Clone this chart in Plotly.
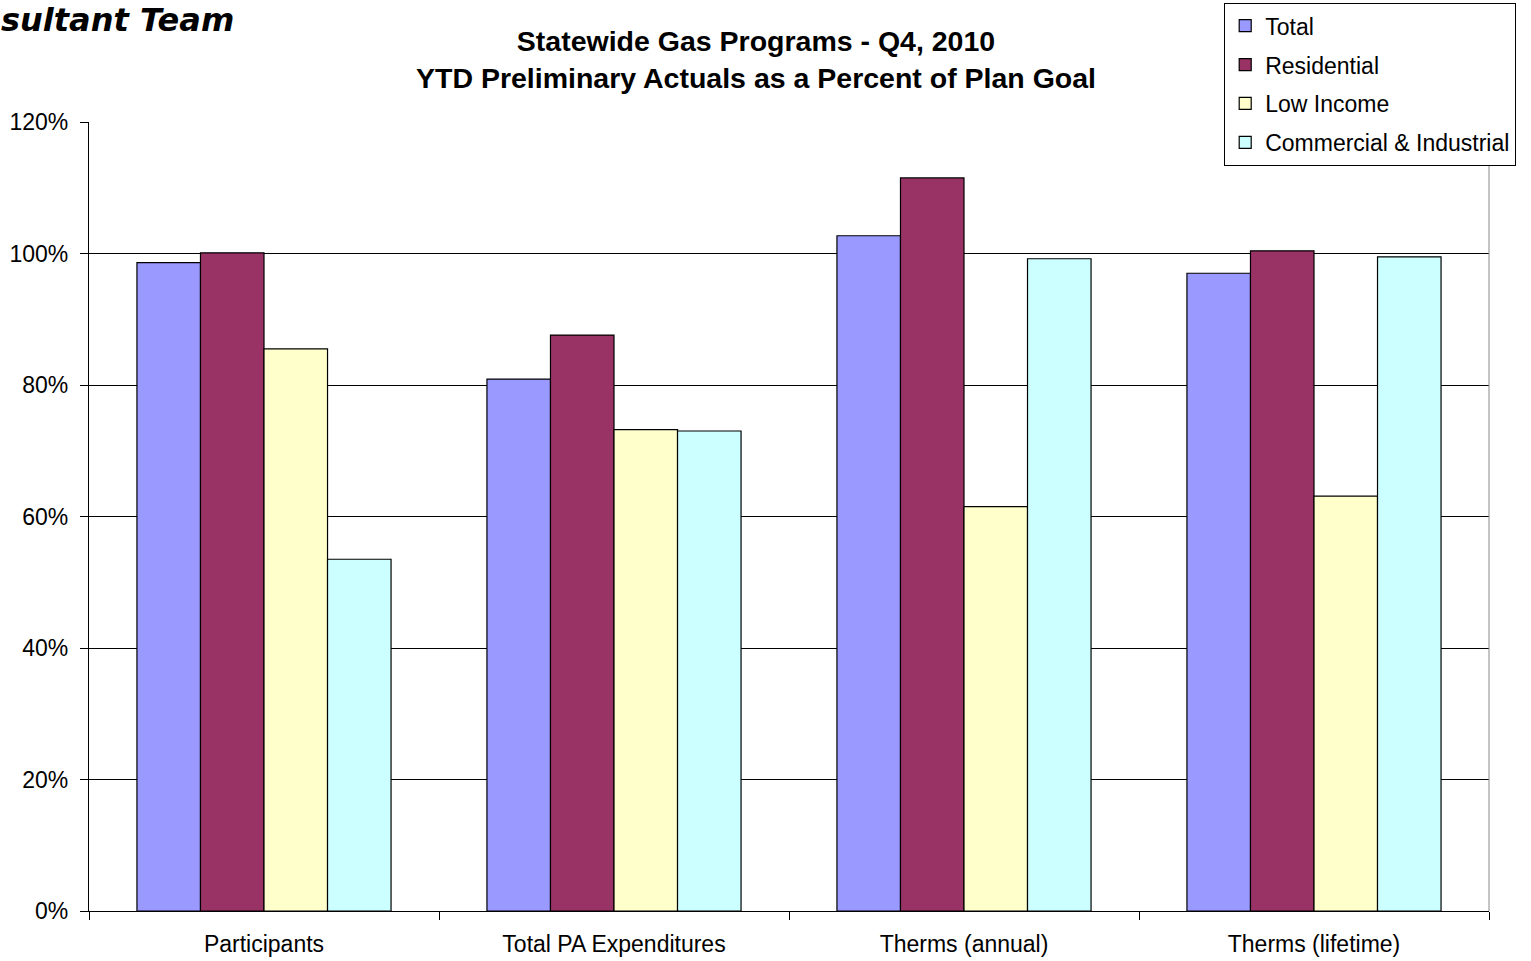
import plotly.graph_objects as go

categories = ["Participants", "Total PA Expenditures", "Therms (annual)", "Therms (lifetime)"]
series_names = ["Total", "Residential", "Low Income", "Commercial & Industrial"]
total = [98.6, 80.9, 102.7, 97.0]
residential = [100.1, 87.6, 111.5, 100.4]
low_income = [85.5, 73.2, 61.5, 63.1]
commercial = [53.5, 73.0, 99.2, 99.5]
colors = ["#9999FF", "#993366", "#FFFFCC", "#CCFFFF"]
y_ticks = [0, 20, 40, 60, 80, 100, 120]
y_tick_labels = ["0%", "20%", "40%", "60%", "80%", "100%", "120%"]

FONT = "Liberation Sans, Arial, sans-serif"

fig = go.Figure()
for i, (name, vals) in enumerate(zip(series_names, [total, residential, low_income, commercial])):
    fig.add_trace(go.Bar(
        x=categories, y=vals, name=name, legendgroup=name,
        marker=dict(color=colors[i], line=dict(color="black", width=1.2)),
    ))

fig.update_layout(
    width=1531, height=961,
    margin=dict(l=89, r=42, t=122, b=50, autoexpand=False),
    plot_bgcolor="white", paper_bgcolor="white",
    barmode="group", bargap=0.274, bargroupgap=0,
    font=dict(family=FONT, color="black"),
    title=dict(
        text="<b>Statewide Gas Programs - Q4, 2010<br>YTD Preliminary Actuals as a Percent of Plan Goal</b>",
        x=756 / 1531, xanchor="center", xref="container",
        y=1 - 51 / 961, yanchor="middle", yref="container",
        font=dict(size=28.5, family=FONT, color="black"),
    ),
    legend=dict(
        x=1224 / 1531, xanchor="left", xref="container",
        y=1 - 3 / 961, yanchor="top", yref="container",
        bordercolor="black", borderwidth=1.2, bgcolor="white",
        font=dict(size=23, family=FONT, color="black"),
        traceorder="grouped", tracegroupgap=6,
    ),
    xaxis=dict(
        showline=True, linecolor="black", linewidth=1.2,
        ticks="outside", tickson="boundaries", ticklen=8, tickcolor="black",
        tickfont=dict(size=23, family=FONT, color="black"),
        ticklabelstandoff=12, automargin=False,
        showgrid=False,
    ),
    yaxis=dict(
        range=[0, 120], tickvals=y_ticks, ticktext=y_tick_labels,
        showline=True, linecolor="black", linewidth=1.2,
        ticks="outside", ticklen=8, tickcolor="black",
        tickfont=dict(size=23, family=FONT, color="black"),
        ticklabelstandoff=7, automargin=False,
        showgrid=True, gridcolor="black", gridwidth=1,
        zeroline=False,
    ),
    showlegend=True,
)

fig.add_shape(type="line", xref="paper", yref="paper", x0=1, x1=1, y0=0, y1=1,
              line=dict(color="#888888", width=1))

fig.add_annotation(
    text="<b><i>sultant Team</i></b>", xref="paper", yref="paper",
    x=-90 / 1400, xanchor="left", y=(911 - 20) / 789, yanchor="middle",
    showarrow=False, font=dict(size=32, family="DejaVu Sans, sans-serif", color="black"),
)

fig.write_html("out.html", config={"displayModeBar": False},
               post_script="document.body.style.margin='0';")
